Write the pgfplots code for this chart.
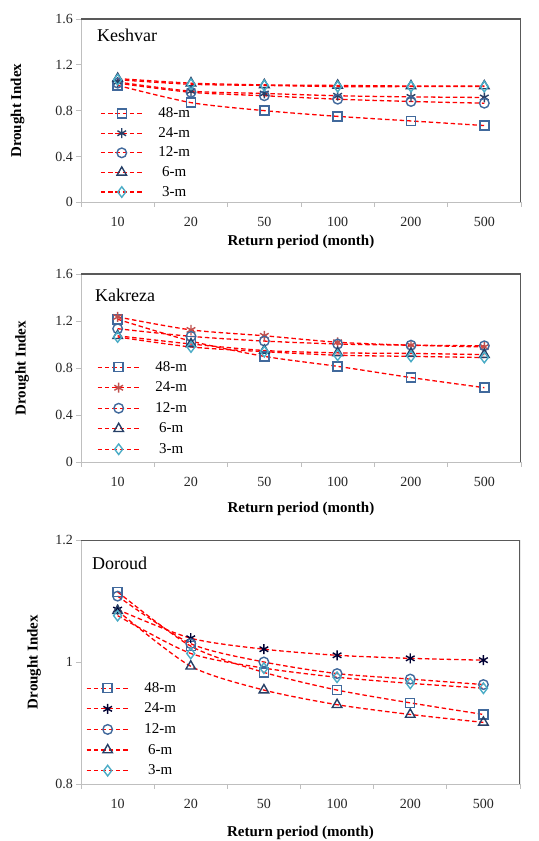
\documentclass[border=0pt]{standalone}
\usepackage{fontspec}
\setmainfont{Liberation Serif}
\usepackage{pgfplots}
\usepackage{pgfplotstable}
\pgfplotsset{compat=1.18}

\definecolor{mk}{HTML}{41699C}
\definecolor{mknavy}{HTML}{263F66}
\definecolor{mkteal}{HTML}{4BACC6}
\definecolor{mkred}{HTML}{C0504D}
\definecolor{axgray}{HTML}{BFBFBF}
\definecolor{framegray}{HTML}{595959}

\pgfplotstableread{
x  m48   m24   m12   m6    m3
0  1.02  1.05  1.04  1.08  1.07
1  0.87  0.97  0.96  1.04  1.03
2  0.80  0.95  0.93  1.025 1.02
3  0.75  0.93  0.90  1.02  1.01
4  0.71  0.92  0.88  1.015 1.01
5  0.67  0.915 0.865 1.015 1.01
}\keshvar

\pgfplotstableread{
x  m48   m24   m12   m6    m3
0  1.215 1.235 1.135 1.075 1.065
1  1.03  1.125 1.07  1.005 0.98
2  0.90  1.075 1.03  0.95  0.94
3  0.815 1.02  1.005 0.93  0.91
4  0.72  0.995 0.995 0.925 0.90
5  0.634 0.98  0.99  0.915 0.89
}\kakreza

\pgfplotstableread{
x  m48   m24   m12   m6    m3
0  1.115 1.086 1.108 1.084 1.076
1  1.026 1.039 1.030 0.993 1.014
2  0.983 1.021 1.000 0.954 0.990
3  0.954 1.011 0.981 0.930 0.975
4  0.933 1.006 0.972 0.914 0.965
5  0.914 1.003 0.963 0.901 0.957
}\doroud

\pgfplotsset{
  panel/.style={
    scale only axis, width=440bp,
    xmin=-0.5, xmax=5.5,
    xtick={-0.5,0.5,...,5.5},
    xticklabels={10,20,50,100,200,500},
    x tick label as interval,
    axis x line*=bottom, axis y line*=left,
    axis line style={axgray, line width=1bp},
    tick align=outside, major tick length=4.5bp,
    tick style={axgray, line width=0.9bp},
    ticklabel style={font=\fontsize{14bp}{16bp}\selectfont, text=black!85},
    /pgf/number format/assume math mode=true,
    yticklabel style={/pgf/number format/.cd, fixed, precision=1},
    xticklabel style={anchor=center, yshift=-15bp},
    label style={font=\fontsize{15bp}{17bp}\selectfont\bfseries},
    xlabel={Return period (month)},
    ylabel={Drought Index},
    y label style={anchor=center},
    x label style={anchor=center},
    legend cell align=center,
    legend image code/.code={
      \draw[red, dash pattern=on 4.5bp off 2.8bp, line width=1.3bp] (0bp,0bp) -- (42bp,0bp);
      \draw[##1, draw=none] plot coordinates {(21bp,0bp)};
      \path (57bp,0bp);
    },
    legend style={draw=none, fill=none, anchor=north west, inner sep=0pt,
      font=\fontsize{15bp}{17bp}\selectfont,
      nodes={inner sep=0pt, text height=11bp, text depth=3bp}},
  },
  ser/.style={red, dash pattern=on 4.5bp off 2.8bp, line width=1.3bp, smooth, tension=0.45},
  s48/.style={ser, mark=square, mark size=4.5bp, mark options={solid, draw=mk, line width=1.4bp, fill=none}},
  s24/.style={ser, mark=asterisk, mark size=5bp, mark options={solid, draw=#1, line width=1.4bp}},
  s12/.style={ser, mark=o, mark size=4.8bp, mark options={solid, draw=mk, line width=1.4bp, fill=none}},
  s6/.style={ser, mark=triangle, mark size=5.5bp, mark options={solid, draw=mknavy, line width=1.4bp, fill=none}},
  s3/.style={ser, mark=diamond, mark size=5.3bp, mark options={solid, draw=mkteal, line width=1.4bp, fill=none}},
}

\begin{document}
\begin{tikzpicture}
\useasboundingbox (0,0) rectangle (539bp,841bp);

% Panel 1: Keshvar
\begin{axis}[panel, at={(81bp,638.7bp)}, anchor=south west, height=183.3bp,
  ymin=0, ymax=1.6, ytick={0,0.4,...,1.6},
  x label style={at={(axis description cs:0.5,-0.216)}},
  y label style={at={(axis description cs:-0.144,0.5)}},
  legend style={at={(axis description cs:0.043,0.523)}, row sep=5.6bp}]
\addplot[s48] table[x=x,y=m48]{\keshvar};
\addplot[s24=mknavy] table[x=x,y=m24]{\keshvar};
\addplot[s12] table[x=x,y=m12]{\keshvar};
\addplot[s6] table[x=x,y=m6]{\keshvar};
\addplot[s3] table[x=x,y=m3]{\keshvar};
\legend{48-m,24-m,12-m,6-m,3-m}
\draw[framegray, line width=1.5bp] (rel axis cs:0,1) -- (rel axis cs:1,1) -- (rel axis cs:1,0);
\node[anchor=west, font=\fontsize{18bp}{20bp}\selectfont, inner sep=0pt] at ([xshift=16bp,yshift=-16bp]rel axis cs:0,1) {Keshvar};
\end{axis}

% Panel 2: Kakreza
\begin{axis}[panel, at={(81bp,378.7bp)}, anchor=south west, height=188.3bp,
  ymin=0, ymax=1.6, ytick={0,0.4,...,1.6},
  x label style={at={(axis description cs:0.5,-0.245)}},
  y label style={at={(axis description cs:-0.134,0.5)}},
  legend style={at={(axis description cs:0.036,0.543)}, row sep=6.5bp}]
\addplot[s48] table[x=x,y=m48]{\kakreza};
\addplot[s24=mkred] table[x=x,y=m24]{\kakreza};
\addplot[s12] table[x=x,y=m12]{\kakreza};
\addplot[s6] table[x=x,y=m6]{\kakreza};
\addplot[s3] table[x=x,y=m3]{\kakreza};
\legend{48-m,24-m,12-m,6-m,3-m}
\draw[framegray, line width=1.5bp] (rel axis cs:0,1) -- (rel axis cs:1,1) -- (rel axis cs:1,0);
\node[anchor=west, font=\fontsize{18bp}{20bp}\selectfont, inner sep=0pt] at ([xshift=14bp,yshift=-21bp]rel axis cs:0,1) {Kakreza};
\end{axis}

% Panel 3: Doroud
\begin{axis}[panel, at={(81bp,57bp)}, anchor=south west, height=244bp, width=439bp,
  ymin=0.8, ymax=1.2, ytick={0.8,1,1.2},
  yticklabel style={/pgf/number format/.cd, fixed, precision=1},
  x label style={at={(axis description cs:0.5,-0.2)}},
  y label style={at={(axis description cs:-0.107,0.5)}},
  legend style={at={(axis description cs:0.011,0.422)}, row sep=6.6bp}]
\addplot[s48] table[x=x,y=m48]{\doroud};
\addplot[s24=black!80!blue] table[x=x,y=m24]{\doroud};
\addplot[s12] table[x=x,y=m12]{\doroud};
\addplot[s6] table[x=x,y=m6]{\doroud};
\addplot[s3] table[x=x,y=m3]{\doroud};
\legend{48-m,24-m,12-m,6-m,3-m}
\draw[framegray, line width=1.5bp] (rel axis cs:0,1) -- (rel axis cs:1,1) -- (rel axis cs:1,0);
\node[anchor=west, font=\fontsize{18bp}{20bp}\selectfont, inner sep=0pt] at ([xshift=11bp,yshift=-23bp]rel axis cs:0,1) {Doroud};
\end{axis}
\end{tikzpicture}
\end{document}
